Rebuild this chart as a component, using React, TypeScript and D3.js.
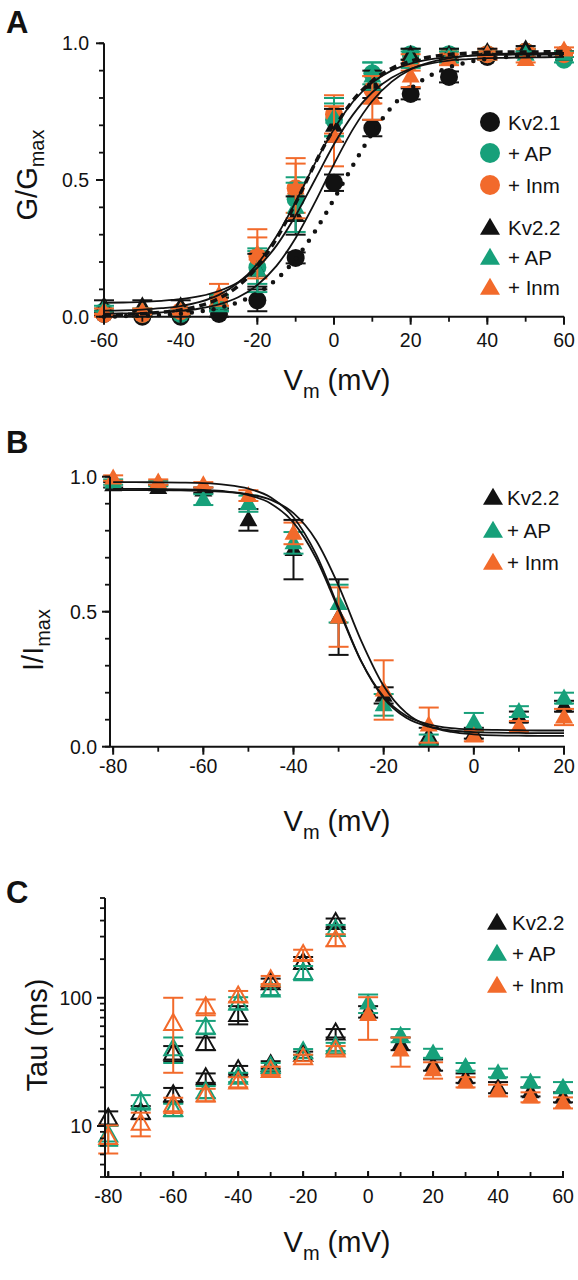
import React from 'react';
import * as d3 from 'd3';

const FONT = '"Liberation Sans", Arial, Helvetica, sans-serif';
const BLACK = '#121212';
const GREEN = '#17a07a';
const ORANGE = '#f26a2b';

// ---------- Panel A: G/Gmax ----------
const A_V = [-60, -50, -40, -30, -20, -10, 0, 10, 20, 30, 40, 50, 60];
const A_KV21 = [0.01, 0.0, 0.0, 0.01, 0.06, 0.215, 0.49, 0.69, 0.815, 0.877, 0.95, 0.97, 0.96];
const A_KV21_ERR = [0.005, 0.005, 0.005, 0.01, 0.04, 0.02, 0.03, 0.03, 0.02, 0.02, 0.01, 0.01, 0.01];
const A_KV21_AP = [0.02, 0.01, 0.01, 0.05, 0.18, 0.43, 0.72, 0.89, 0.96, 0.96, 0.96, 0.97, 0.94];
const A_KV21_AP_ERR = [0.01, 0.01, 0.01, 0.02, 0.06, 0.08, 0.06, 0.04, 0.02, 0.02, 0.01, 0.01, 0.01];
const A_KV21_INM = [0.01, 0.01, 0.02, 0.06, 0.22, 0.47, 0.74, 0.83, 0.93, 0.95, 0.96, 0.97, 0.96];
const A_KV21_INM_ERR = [0.01, 0.01, 0.01, 0.02, 0.07, 0.09, 0.07, 0.05, 0.03, 0.02, 0.02, 0.01, 0.01];
const A_KV22 = [0.04, 0.04, 0.04, 0.05, 0.17, 0.37, 0.7, 0.85, 0.96, 0.96, 0.97, 0.98, 0.96];
const A_KV22_ERR = [0.02, 0.02, 0.02, 0.02, 0.06, 0.07, 0.06, 0.05, 0.02, 0.02, 0.01, 0.01, 0.01];
const A_KV22_AP = [0.03, 0.02, 0.02, 0.05, 0.17, 0.4, 0.73, 0.88, 0.94, 0.95, 0.96, 0.96, 0.96];
const A_KV22_AP_ERR = [0.01, 0.01, 0.01, 0.03, 0.08, 0.09, 0.07, 0.05, 0.03, 0.02, 0.01, 0.01, 0.01];
const A_KV22_INM = [0.02, 0.02, 0.02, 0.08, 0.23, 0.47, 0.66, 0.8, 0.88, 0.94, 0.96, 0.94, 0.975];
const A_KV22_INM_ERR = [0.01, 0.01, 0.01, 0.04, 0.09, 0.11, 0.11, 0.08, 0.04, 0.02, 0.01, 0.01, 0.01];

const A_FIT_V = [-60, -55, -50, -45, -40, -35, -30, -25, -20, -15, -10, -5, 0, 5, 10, 15, 20, 25, 30, 35, 40, 45, 50, 55, 60];
const A_FIT_DOTTED = [0.0, 0.002, 0.004, 0.007, 0.011, 0.019, 0.032, 0.053, 0.086, 0.137, 0.211, 0.311, 0.43, 0.555, 0.671, 0.766, 0.834, 0.881, 0.912, 0.931, 0.943, 0.95, 0.954, 0.956, 0.958];
const A_FIT_DASHED = [0.007, 0.008, 0.011, 0.016, 0.025, 0.04, 0.067, 0.112, 0.183, 0.286, 0.416, 0.559, 0.689, 0.792, 0.863, 0.908, 0.935, 0.95, 0.959, 0.964, 0.967, 0.968, 0.968, 0.969, 0.97];
const A_FIT_S1 = [0.051, 0.052, 0.054, 0.058, 0.064, 0.075, 0.094, 0.126, 0.179, 0.26, 0.37, 0.5, 0.631, 0.74, 0.821, 0.874, 0.907, 0.926, 0.937, 0.942, 0.946, 0.947, 0.948, 0.949, 0.95];
const A_FIT_S2 = [0.022, 0.023, 0.026, 0.031, 0.039, 0.054, 0.08, 0.124, 0.193, 0.294, 0.42, 0.56, 0.686, 0.787, 0.856, 0.9, 0.926, 0.941, 0.949, 0.954, 0.957, 0.958, 0.959, 0.959, 0.96];
const A_FIT_S3 = [0.011, 0.012, 0.013, 0.016, 0.021, 0.03, 0.045, 0.071, 0.116, 0.186, 0.288, 0.417, 0.558, 0.687, 0.789, 0.859, 0.904, 0.93, 0.945, 0.954, 0.959, 0.962, 0.963, 0.964, 0.965];

const A_X_TICKS = [-60, -40, -20, 0, 20, 40, 60];
const A_Y_TICKS = [0, 0.5, 1.0];
const A_LEGEND = ['Kv2.1', '+ AP', '+ Inm', 'Kv2.2', '+ AP', '+ Inm'];

// ---------- Panel B: I/Imax ----------
const B_V = [-80, -70, -60, -50, -40, -30, -20, -10, 0, 10, 20];
const B_KV22 = [0.97, 0.96, 0.95, 0.84, 0.73, 0.48, 0.19, 0.04, 0.05, 0.11, 0.15];
const B_KV22_ERR = [0.01, 0.01, 0.01, 0.04, 0.11, 0.14, 0.03, 0.03, 0.02, 0.02, 0.02];
const B_AP = [0.98, 0.975, 0.915, 0.9, 0.755, 0.53, 0.155, 0.025, 0.09, 0.13, 0.18];
const B_AP_ERR = [0.01, 0.01, 0.02, 0.03, 0.04, 0.07, 0.04, 0.02, 0.035, 0.02, 0.02];
const B_INM = [0.995, 0.98, 0.97, 0.93, 0.79, 0.48, 0.21, 0.08, 0.04, 0.075, 0.11];
const B_INM_ERR = [0.01, 0.01, 0.01, 0.02, 0.04, 0.11, 0.11, 0.065, 0.02, 0.02, 0.03];

const B_FIT_V = [-80, -75, -70, -65, -60, -55, -50, -45, -40, -35, -30, -25, -20, -15, -10, -5, 0, 5, 10, 15, 20];
const B_FIT_1 = [0.98, 0.98, 0.979, 0.978, 0.976, 0.97, 0.956, 0.923, 0.85, 0.713, 0.515, 0.317, 0.18, 0.107, 0.074, 0.06, 0.054, 0.052, 0.051, 0.05, 0.05];
const B_FIT_2 = [0.95, 0.95, 0.95, 0.949, 0.948, 0.944, 0.935, 0.914, 0.865, 0.765, 0.597, 0.393, 0.225, 0.125, 0.076, 0.055, 0.046, 0.042, 0.041, 0.04, 0.04];
const B_FIT_3 = [0.955, 0.955, 0.954, 0.953, 0.951, 0.946, 0.932, 0.9, 0.83, 0.698, 0.508, 0.317, 0.185, 0.115, 0.083, 0.069, 0.064, 0.062, 0.061, 0.06, 0.06];

const B_X_TICKS = [-80, -60, -40, -20, 0, 20];
const B_Y_TICKS = [0, 0.5, 1.0];
const BC_LEGEND = ['Kv2.2', '+ AP', '+ Inm'];

// ---------- Panel C: Tau ----------
const C_V_SLOW = [-60, -50, -40, -30, -20, -10];
const C_SLOW_KV22 = [37, 44, 74, 131, 188, 385];
const C_SLOW_KV22_ERR = [5, 5, 12, 10, 20, 30];
const C_SLOW_AP = [40, 59, 91, 115, 157, 340];
const C_SLOW_AP_ERR = [9, 7, 10, 10, 20, 30];
const C_SLOW_INM = [63, 85, 103, 138, 217, 283];
const C_SLOW_INM_ERR = [37, 12, 10, 10, 20, 30];

const C_V_FAST = [-80, -70, -60, -50, -40, -30, -20, -10];
const C_FAST_KV22 = [11.5, 12.8, 17.5, 23.7, 27.4, 30, 36, 53];
const C_FAST_KV22_ERR = [1.5, 1.5, 2.3, 2, 2, 2, 2, 4];
const C_FAST_AP = [8.5, 15.4, 13.4, 18.5, 24, 29, 37.8, 41.5];
const C_FAST_AP_ERR = [1.5, 2, 1.5, 2, 2, 2, 2, 3];
const C_FAST_INM = [8.1, 10.5, 14.6, 17.5, 22, 27, 34, 39];
const C_FAST_INM_ERR = [2, 2.2, 2, 2, 2, 2, 2, 3];

const C_V_DEPOL = [0, 10, 20, 30, 40, 50, 60];
const C_DEPOL_KV22 = [78, 44, 30, 23.7, 20, 18.5, 16.8];
const C_DEPOL_KV22_ERR = [8, 5, 3, 2, 2, 1.5, 1.5];
const C_DEPOL_AP = [91, 51, 37, 29, 26, 22, 20];
const C_DEPOL_AP_ERR = [15, 6, 3, 2, 2, 2, 2];
const C_DEPOL_INM = [74, 39, 27.4, 22, 19, 16.8, 15.2];
const C_DEPOL_INM_ERR = [27, 10, 4, 2, 2, 1.5, 1.5];

const C_X_TICKS = [-80, -60, -40, -20, 0, 20, 40, 60];
const C_Y_LABELS = [10, 100];

// ---------- helpers ----------
type Sc = (v: number) => number;

function triPath(x: number, y: number, w = 18, h = 16) {
  return `M${x},${y - h * 0.6}L${x + w / 2},${y + h * 0.4}L${x - w / 2},${y + h * 0.4}Z`;
}

function Series({ xs, ys, errs, x, y, color, shape, hollow = false }: any) {
  return (
    <g>
      {xs.map((v: number, i: number) => {
        const cx = x(v);
        const top = y(ys[i] + errs[i]);
        const bot = y(Math.max(ys[i] - errs[i], 1e-6));
        return (
          <g key={'e' + i} stroke={color} strokeWidth={2}>
            <line x1={cx} x2={cx} y1={top} y2={bot} />
            <line x1={cx - 10} x2={cx + 10} y1={top} y2={top} />
            <line x1={cx - 10} x2={cx + 10} y1={bot} y2={bot} />
          </g>
        );
      })}
      {xs.map((v: number, i: number) => {
        const cx = x(v);
        const cy = y(ys[i]);
        if (shape === 'circle') return <circle key={'m' + i} cx={cx} cy={cy} r={9} fill={color} />;
        return hollow ? (
          <path key={'m' + i} d={triPath(cx, cy)} fill="none" stroke={color} strokeWidth={2} />
        ) : (
          <path key={'m' + i} d={triPath(cx, cy)} fill={color} />
        );
      })}
    </g>
  );
}

function fitPath(xs: number[], ys: number[], x: Sc, y: Sc) {
  const gen = d3
    .line<number>()
    .x((_, i) => x(xs[i]))
    .y((d) => y(d))
    .curve(d3.curveMonotoneX);
  return gen(ys) || '';
}

function AxisLeft({ x0, y, ticks, minor, fmt, labelX, tick = 8, minorLen = 5, y0, y1 }: any) {
  return (
    <g>
      <line x1={x0} x2={x0} y1={y0} y2={y1} stroke={BLACK} strokeWidth={2} />
      {minor.map((t: number, i: number) => (
        <line key={'n' + i} x1={x0 - minorLen} x2={x0} y1={y(t)} y2={y(t)} stroke={BLACK} strokeWidth={1.8} />
      ))}
      {ticks.map((t: number, i: number) => (
        <g key={'t' + i}>
          <line x1={x0 - tick} x2={x0} y1={y(t)} y2={y(t)} stroke={BLACK} strokeWidth={2} />
          <text x={labelX} y={y(t) + 7} textAnchor="end" fontSize={19.5} fontFamily={FONT} fill={BLACK}>
            {fmt(t)}
          </text>
        </g>
      ))}
    </g>
  );
}

function AxisBottom({ y0, x, ticks, minor, labelY, x0, x1, dir = 1, tick = 8, minorLen = 5 }: any) {
  return (
    <g>
      <line x1={x0} x2={x1} y1={y0} y2={y0} stroke={BLACK} strokeWidth={2} />
      {minor.map((t: number, i: number) => (
        <line key={'n' + i} x1={x(t)} x2={x(t)} y1={y0} y2={y0 + dir * minorLen} stroke={BLACK} strokeWidth={1.8} />
      ))}
      {ticks.map((t: number, i: number) => (
        <g key={'t' + i}>
          <line x1={x(t)} x2={x(t)} y1={y0} y2={y0 + dir * tick} stroke={BLACK} strokeWidth={2} />
          <text x={x(t)} y={labelY} textAnchor="middle" fontSize={19.5} fontFamily={FONT} fill={BLACK}>
            {t}
          </text>
        </g>
      ))}
    </g>
  );
}

function VmTitle({ cx, y }: { cx: number; y: number }) {
  return (
    <text x={cx} y={y} textAnchor="middle" fontSize={29} fontFamily={FONT} fill={BLACK}>
      V<tspan fontSize={20} dy={8}>m</tspan>
      <tspan dy={-8}> (mV)</tspan>
    </text>
  );
}

function Legend({ x, tx, rows, labels, shapes, colors }: any) {
  return (
    <g>
      {rows.map((ry: number, i: number) => (
        <g key={i}>
          {shapes[i] === 'circle' ? (
            <circle cx={x} cy={ry} r={10} fill={colors[i]} />
          ) : (
            <path d={triPath(x, ry + 1, 20, 17)} fill={colors[i]} />
          )}
          <text x={tx} y={ry + 7.5} fontSize={20.5} fontFamily={FONT} fill={BLACK}>
            {labels[i]}
          </text>
        </g>
      ))}
    </g>
  );
}

function range(a: number, b: number, s: number) {
  return d3.range(a, b + s / 2, s);
}

export default function App() {
  // Panel A scales
  const ax = d3.scaleLinear().domain([-60, 60]).range([104, 564]);
  const ay = d3.scaleLinear().domain([0, 1]).range([316.7, 43.3]);
  // Panel B scales
  const bx = d3.scaleLinear().domain([-80.7, 20]).range([110, 564]);
  const by = d3.scaleLinear().domain([0, 1]).range([746.7, 476.7]);
  // Panel C scales
  const cx = d3.scaleLinear().domain([-81, 60]).range([105, 563]);
  const cy = d3.scaleLog().domain([4, 600]).range([1177, 898]);

  const cMinor = cy.ticks().filter((t) => t !== 10 && t !== 100);

  const lineStyle = { fill: 'none', stroke: BLACK };

  return (
    <svg
      width={578}
      height={1280}
      style={{ position: 'absolute', left: 0, top: 0, background: '#fff' }}
      xmlns="http://www.w3.org/2000/svg"
    >
      <rect x={0} y={0} width={578} height={1280} fill="#fff" />

      {/* ===== Panel A ===== */}
      <text x={6} y={33} fontSize={31} fontWeight="bold" fontFamily={FONT} fill={BLACK}>A</text>
      <Series xs={A_V} ys={A_KV21} errs={A_KV21_ERR} x={ax} y={ay} color={BLACK} shape="circle" />
      <Series xs={A_V} ys={A_KV21_AP} errs={A_KV21_AP_ERR} x={ax} y={ay} color={GREEN} shape="circle" />
      <Series xs={A_V} ys={A_KV21_INM} errs={A_KV21_INM_ERR} x={ax} y={ay} color={ORANGE} shape="circle" />
      <Series xs={A_V} ys={A_KV22} errs={A_KV22_ERR} x={ax} y={ay} color={BLACK} shape="tri" />
      <Series xs={A_V} ys={A_KV22_AP} errs={A_KV22_AP_ERR} x={ax} y={ay} color={GREEN} shape="tri" />
      <Series xs={A_V} ys={A_KV22_INM} errs={A_KV22_INM_ERR} x={ax} y={ay} color={ORANGE} shape="tri" />
      <path d={fitPath(A_FIT_V, A_FIT_S1, ax, ay)} {...lineStyle} strokeWidth={1.8} />
      <path d={fitPath(A_FIT_V, A_FIT_S2, ax, ay)} {...lineStyle} strokeWidth={1.8} />
      <path d={fitPath(A_FIT_V, A_FIT_S3, ax, ay)} {...lineStyle} strokeWidth={1.8} />
      <path d={fitPath(A_FIT_V, A_FIT_DASHED, ax, ay)} {...lineStyle} strokeWidth={3.5} strokeDasharray="7 5" />
      <path
        d={fitPath(A_FIT_V, A_FIT_DOTTED, ax, ay)}
        {...lineStyle}
        strokeWidth={4.5}
        strokeDasharray="0 11"
        strokeLinecap="round"
      />
      <AxisLeft
        x0={104}
        y={ay}
        y0={ay(0)}
        y1={ay(1)}
        ticks={A_Y_TICKS}
        minor={range(0, 1, 0.1)}
        fmt={(t: number) => t.toFixed(1)}
        labelX={89}
      />
      <AxisBottom
        y0={ay(0)}
        x={ax}
        x0={104}
        x1={564}
        ticks={A_X_TICKS}
        minor={range(-60, 60, 10)}
        labelY={347}
      />
      <text transform="translate(37,175) rotate(-90)" textAnchor="middle" fontSize={29} fontFamily={FONT} fill={BLACK}>
        G/G<tspan fontSize={20} dy={7}>max</tspan>
      </text>
      <VmTitle cx={337} y={390} />
      <Legend
        x={490}
        tx={508}
        rows={[122, 153, 185, 227, 257, 287]}
        labels={A_LEGEND}
        shapes={['circle', 'circle', 'circle', 'tri', 'tri', 'tri']}
        colors={[BLACK, GREEN, ORANGE, BLACK, GREEN, ORANGE]}
      />

      {/* ===== Panel B ===== */}
      <text x={6} y={453} fontSize={31} fontWeight="bold" fontFamily={FONT} fill={BLACK}>B</text>
      <Series xs={B_V} ys={B_KV22} errs={B_KV22_ERR} x={bx} y={by} color={BLACK} shape="tri" />
      <Series xs={B_V} ys={B_AP} errs={B_AP_ERR} x={bx} y={by} color={GREEN} shape="tri" />
      <Series xs={B_V} ys={B_INM} errs={B_INM_ERR} x={bx} y={by} color={ORANGE} shape="tri" />
      <path d={fitPath(B_FIT_V, B_FIT_1, bx, by)} {...lineStyle} strokeWidth={1.8} />
      <path d={fitPath(B_FIT_V, B_FIT_2, bx, by)} {...lineStyle} strokeWidth={1.8} />
      <path d={fitPath(B_FIT_V, B_FIT_3, bx, by)} {...lineStyle} strokeWidth={1.8} />
      <AxisLeft
        x0={110}
        y={by}
        y0={by(0)}
        y1={by(1)}
        ticks={B_Y_TICKS}
        minor={range(0, 1, 0.1)}
        fmt={(t: number) => t.toFixed(1)}
        labelX={97}
      />
      <AxisBottom
        y0={by(0)}
        x={bx}
        x0={110}
        x1={565}
        ticks={B_X_TICKS}
        minor={range(-80, 20, 10)}
        labelY={773}
      />
      <text transform="translate(43,640) rotate(-90)" textAnchor="middle" fontSize={29} fontFamily={FONT} fill={BLACK}>
        I/I<tspan fontSize={20} dy={7}>max</tspan>
      </text>
      <VmTitle cx={337} y={831} />
      <Legend
        x={493}
        tx={507}
        rows={[497, 530, 562]}
        labels={BC_LEGEND}
        shapes={['tri', 'tri', 'tri']}
        colors={[BLACK, GREEN, ORANGE]}
      />

      {/* ===== Panel C ===== */}
      <text x={6} y={903} fontSize={31} fontWeight="bold" fontFamily={FONT} fill={BLACK}>C</text>
      <Series xs={C_V_FAST} ys={C_FAST_KV22} errs={C_FAST_KV22_ERR} x={cx} y={cy} color={BLACK} shape="tri" hollow />
      <Series xs={C_V_FAST} ys={C_FAST_AP} errs={C_FAST_AP_ERR} x={cx} y={cy} color={GREEN} shape="tri" hollow />
      <Series xs={C_V_FAST} ys={C_FAST_INM} errs={C_FAST_INM_ERR} x={cx} y={cy} color={ORANGE} shape="tri" hollow />
      <Series xs={C_V_SLOW} ys={C_SLOW_KV22} errs={C_SLOW_KV22_ERR} x={cx} y={cy} color={BLACK} shape="tri" hollow />
      <Series xs={C_V_SLOW} ys={C_SLOW_AP} errs={C_SLOW_AP_ERR} x={cx} y={cy} color={GREEN} shape="tri" hollow />
      <Series xs={C_V_SLOW} ys={C_SLOW_INM} errs={C_SLOW_INM_ERR} x={cx} y={cy} color={ORANGE} shape="tri" hollow />
      <Series xs={C_V_DEPOL} ys={C_DEPOL_KV22} errs={C_DEPOL_KV22_ERR} x={cx} y={cy} color={BLACK} shape="tri" />
      <Series xs={C_V_DEPOL} ys={C_DEPOL_AP} errs={C_DEPOL_AP_ERR} x={cx} y={cy} color={GREEN} shape="tri" />
      <Series xs={C_V_DEPOL} ys={C_DEPOL_INM} errs={C_DEPOL_INM_ERR} x={cx} y={cy} color={ORANGE} shape="tri" />
      <AxisLeft
        x0={105}
        y={cy}
        y0={cy(4)}
        y1={cy(600)}
        ticks={C_Y_LABELS}
        minor={cMinor}
        fmt={(t: number) => String(t)}
        labelX={92}
      />
      <AxisBottom
        y0={cy(4)}
        x={cx}
        x0={105}
        x1={564}
        ticks={C_X_TICKS}
        minor={range(-80, 60, 10)}
        labelY={1203}
        dir={-1}
        tick={6}
        minorLen={5}
      />
      <text transform="translate(47,1035) rotate(-90)" textAnchor="middle" fontSize={29} fontFamily={FONT} fill={BLACK}>
        Tau (ms)
      </text>
      <VmTitle cx={337} y={1252} />
      <Legend
        x={497}
        tx={512}
        rows={[922, 953, 985]}
        labels={BC_LEGEND}
        shapes={['tri', 'tri', 'tri']}
        colors={[BLACK, GREEN, ORANGE]}
      />
    </svg>
  );
}
